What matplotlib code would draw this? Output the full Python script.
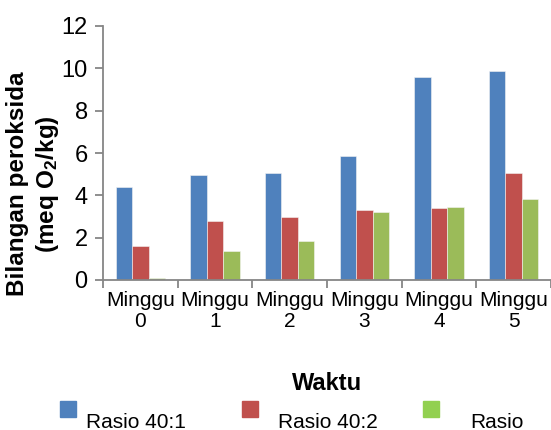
import matplotlib
matplotlib.use("Agg")
import matplotlib.pyplot as plt
from matplotlib.patches import Rectangle
import numpy as np

plt.rcParams['font.family'] = ['Liberation Sans', 'DejaVu Sans']
plt.rcParams['mathtext.fontset'] = 'custom'
plt.rcParams['mathtext.rm'] = 'Liberation Sans:bold'
plt.rcParams['mathtext.default'] = 'rm'

categories = ["Minggu\n0", "Minggu\n1", "Minggu\n2", "Minggu\n3", "Minggu\n4", "Minggu\n5"]
series_names = ["Rasio 40:1", "Rasio 40:2", "Rasio"]
rasio_40_1 = [4.38, 4.96, 5.04, 5.88, 9.60, 9.87]
rasio_40_2 = [1.60, 2.81, 2.97, 3.32, 3.40, 5.06]
rasio_other = [0.08, 1.36, 1.83, 3.21, 3.43, 3.81]
bar_colors = ["#4F81BD", "#C0504D", "#9BBB59"]
legend_colors = ["#4F81BD", "#C0504D", "#92D050"]
yticks = [0, 2, 4, 6, 8, 10, 12]

W, H = 551, 430
fig = plt.figure(figsize=(W / 100, H / 100), dpi=100)
ax = fig.add_axes([103 / W, 1 - 280 / H, 1 - 103 / W, (280 - 26) / H])

x = np.arange(len(categories))
bw = 0.22
for i, (vals, c) in enumerate(zip([rasio_40_1, rasio_40_2, rasio_other], bar_colors)):
    ax.bar(x + (i - 1) * bw, vals, bw, color=c, edgecolor="#f4f4f4", linewidth=0.4, zorder=2)

ax.set_xlim(-0.5, len(categories) - 0.5)
ax.set_ylim(0, 12)
ax.set_yticks(yticks)
ax.set_yticklabels([str(t) for t in yticks], fontsize=17)
ax.set_xticks(np.arange(len(categories) + 1) - 0.5)
ax.set_xticklabels([])
ax.set_xticks(x, minor=True)
ax.set_xticklabels(categories, minor=True, fontsize=15, linespacing=1.15)

spine_c = "#868686"
for s in ["top", "right"]:
    ax.spines[s].set_visible(False)
for s in ["left", "bottom"]:
    ax.spines[s].set_color(spine_c)
    ax.spines[s].set_linewidth(1.3)
ax.set_axisbelow(False)
ax.tick_params(axis="y", which="major", length=6, width=1.3, color=spine_c, pad=5)
ax.tick_params(axis="x", which="major", length=6, width=1.3, color=spine_c)
ax.tick_params(axis="x", which="minor", length=0, pad=8)

fig.text(34 / W, 1 - 184 / H, "Bilangan peroksida\n(meq O$_2$/kg)", rotation=90,
         ha="center", va="center", multialignment="center", fontsize=17.5,
         fontweight="bold", linespacing=1.25)
fig.text(327 / W, 1 - 383 / H, "Waktu", ha="center", va="center",
         fontsize=17, fontweight="bold")

sq_x = [60, 242, 423]
txt_x = [86, 278, 470]
for name, c, sx, tx in zip(series_names, legend_colors, sq_x, txt_x):
    fig.patches.append(Rectangle((sx / W, 1 - 417 / H), 16 / W, 16 / H,
                                 transform=fig.transFigure, color=c, figure=fig))
    fig.text(tx / W, 1 - 422 / H, name, ha="left", va="center", fontsize=15)

fig.savefig("out.png", dpi=100)
